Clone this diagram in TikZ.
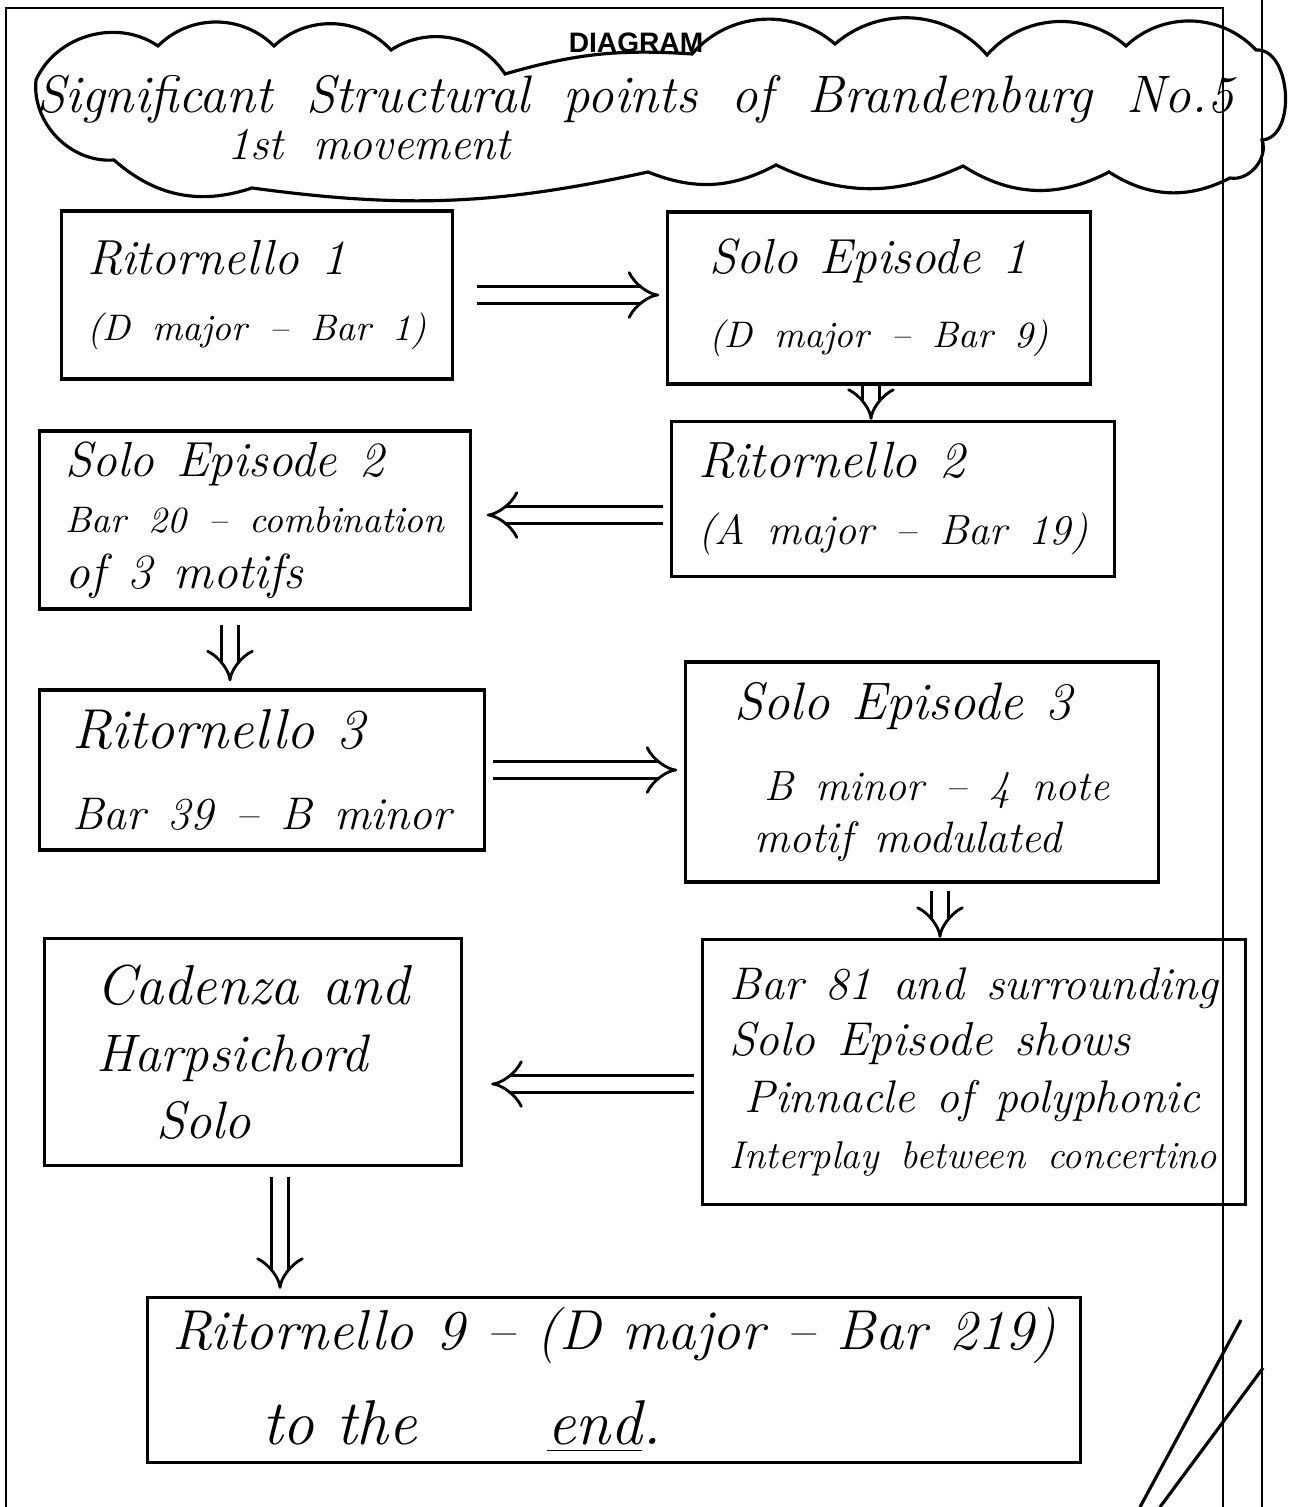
\documentclass[tikz,border=0pt]{standalone}
\usepackage{fontspec}
\newfontfamily\bannerfont{Liberation Sans}
\usetikzlibrary{arrows.meta}
\newcommand{\pen}[1]{\fontsize{#1}{19}\selectfont}
\tikzset{
  hand/.style={font={\itshape\pen{14}\spaceskip=0.45em plus 0.1em\relax}},
  stage/.style={draw, line width=0.9pt, hand, align=left, inner sep=0pt},
  flow/.style={double, double distance=4pt, line width=0.8pt, -{Implies[scale=1.4]}},
}

\begin{document}
\begin{tikzpicture}[x=0.01cm, y=-0.01cm]
\useasboundingbox (0,0) rectangle (1310,1507);
% page frame
\draw[line width=0.8pt] (6,1507) -- (6,8) -- (1223,8) -- (1223,1507);
\draw[line width=0.8pt] (1262,0) -- (1262,1507);
\draw[line width=0.9pt] (1241,1320) -- (1140,1507);
\draw[line width=0.9pt] (1263,1368) -- (1160,1507);

% title cloud
\draw[line width=0.9pt] (36,80) to[bend left=50] (158,46) to[bend left=45] (274,46)
  to[bend left=45] (391,50) to[bend left=45] (505,74) to[bend left=10] (692,54)
  to[bend left=45] (835,44) to[bend left=45] (987,55) to[bend left=45] (1126,46)
  to[bend left=45] (1256,50) to[bend left=90] (1262,140) to[bend left=60] (1230,178)
  to[bend left=30] (1109,172) to[bend left=30] (963,166) to[bend left=25] (776,165)
  to[bend left=25] (648,172) to[bend left=10] (252,188) to[bend left=30] (114,160)
  to[bend left=50] cycle;
\node[font=\bannerfont\bfseries\fontsize{8}{8}\selectfont] (banner) at (636,43) {DIAGRAM};
\node[hand, font={\itshape\pen{15}\spaceskip=0.65em\relax}, anchor=base west] (heading) at (24,113)
  {Significant Structural points of Brandenburg No.5};
\node[hand, font={\itshape\pen{13}\spaceskip=0.65em\relax}, anchor=base west] (movement) at (215,160) {1st movement};

% stages
\node[stage, minimum width=3.9cm, minimum height=1.68cm] (rit1) at (257,295)
  {Ritornello 1\\\pen{10.5}(D major -- Bar 1)};
\node[stage, minimum width=4.22cm, minimum height=1.72cm] (solo1) at (879,298)
  {Solo Episode 1\\[2pt]\pen{10.5}(D major -- Bar 9)};
\node[stage, minimum width=4.43cm, minimum height=1.55cm] (rit2) at (893,499)
  {\pen{14.5}Ritornello 2\\\pen{12}(A major -- Bar 19)};
\node[stage, minimum width=4.3cm, minimum height=1.78cm] (solo2) at (255,520)
  {Solo Episode 2\\[-3pt]\pen{10.5}Bar 20 -- combination\\[-3pt]of 3 motifs};
\node[stage, minimum width=4.45cm, minimum height=1.6cm] (rit3) at (262,770)
  {\pen{16}Ritornello 3\\[4pt]\pen{13}Bar 39 -- B minor};
\node[stage, minimum width=4.72cm, minimum height=2.2cm] (solo3) at (922,772)
  {\pen{15}Solo Episode 3\\[4pt]\pen{12}\hspace*{0.3cm}B minor -- 4 note\\[-4pt]\pen{12.5}\hspace*{0.2cm}motif modulated};
\node[stage, minimum width=5.42cm, minimum height=2.65cm] (bar81) at (974,1072)
  {\pen{13}Bar 81 and surrounding\\[-3pt]\pen{13.5}Solo Episode shows\\[-3pt]\pen{13}\hspace*{0.15cm}Pinnacle of polyphonic\\[-3pt]\pen{11}Interplay between concertino};
\node[stage, font={\itshape\pen{15}\spaceskip=0.45em\relax}, minimum width=4.17cm, minimum height=2.27cm] (cadenza) at (253,1052)
  {\pen{16}Cadenza and\\Harpsichord\\\hspace*{0.6cm}Solo};
\node[stage, minimum width=9.32cm, minimum height=1.65cm] (rit9) at (614,1380)
  {\pen{16}Ritornello 9 -- (D major -- Bar 219)\\[8pt]\pen{18}\hspace*{0.9cm}to the\hspace{1.3cm}\underline{end}.};

% connectors
\coordinate (r2out) at ([yshift=-0.16cm]rit2.west);
\coordinate (s2out) at ([xshift=-0.25cm]solo2.south);
\coordinate (s3out) at ([xshift=0.18cm]solo3.south);
\coordinate (b81out) at ([yshift=-0.12cm]bar81.west);
\coordinate (cadout) at ([xshift=0.27cm]cadenza.south);
\draw[flow, shorten <=0.23cm, shorten >=2pt] (rit1.east) -- (rit1.east -| solo1.west);
\draw[flow, -{Implies[scale=1.1]}] ([xshift=-0.08cm]solo1.south) -- ([xshift=-0.08cm]solo1.south |- rit2.north);
\draw[flow, shorten <=2pt, shorten >=0.15cm] (r2out) -- (r2out -| solo2.east);
\draw[flow, shorten <=4pt, shorten >=2pt] (s2out) -- (s2out |- rit3.north);
\draw[flow, shorten <=0.07cm, shorten >=2pt] (rit3.east) -- (rit3.east -| solo3.west);
\draw[flow, -{Implies[scale=1.1]}, shorten <=2pt] (s3out) -- (s3out |- bar81.north);
\draw[flow, shorten <=2pt, shorten >=0.28cm] (b81out) -- (b81out -| cadenza.east);
\draw[flow, shorten <=0.1cm, shorten >=2pt] (cadout) -- (cadout |- rit9.north);
\end{tikzpicture}
\end{document}
